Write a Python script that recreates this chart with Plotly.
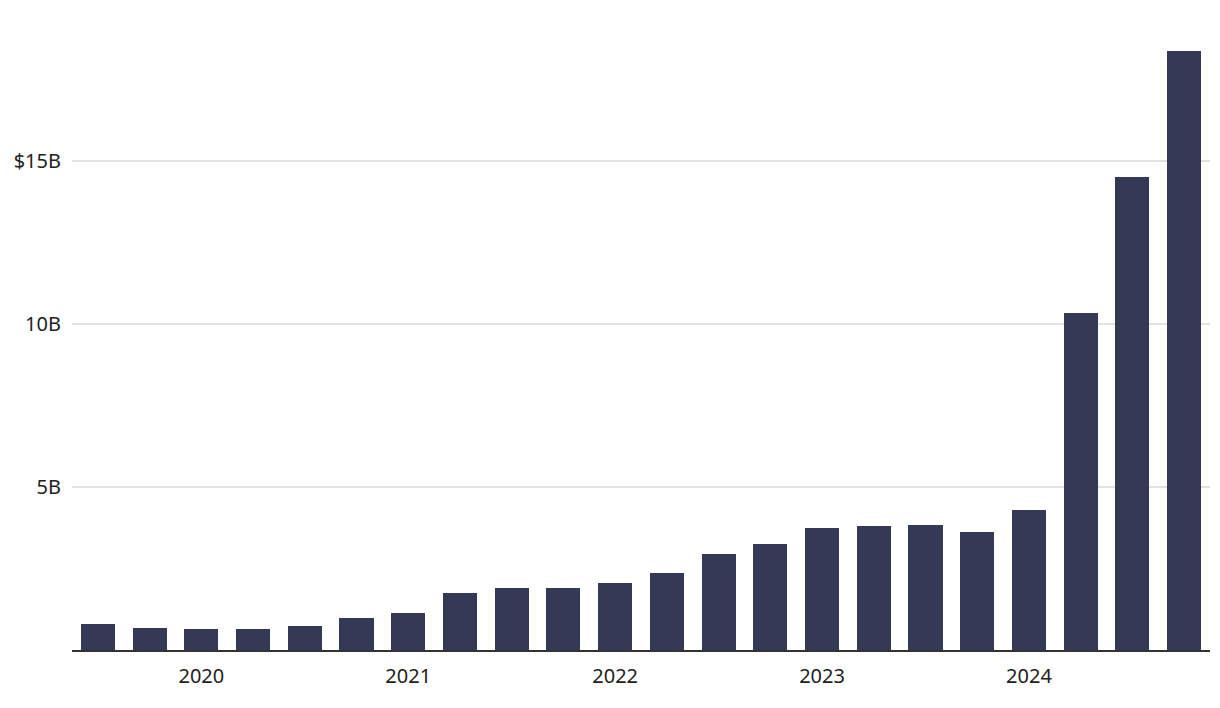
import plotly.graph_objects as go

quarters = ["2019 Q3", "2019 Q4",
            "2020 Q1", "2020 Q2", "2020 Q3", "2020 Q4",
            "2021 Q1", "2021 Q2", "2021 Q3", "2021 Q4",
            "2022 Q1", "2022 Q2", "2022 Q3", "2022 Q4",
            "2023 Q1", "2023 Q2", "2023 Q3", "2023 Q4",
            "2024 Q1", "2024 Q2", "2024 Q3", "2024 Q4"]
values_b = [0.80, 0.67, 0.64, 0.64, 0.74, 0.98, 1.13, 1.75, 1.90, 1.90, 2.06,
            2.36, 2.94, 3.25, 3.74, 3.80, 3.83, 3.62, 4.29, 10.34, 14.51, 18.40]
year_ticks = ["2020", "2021", "2022", "2023", "2024"]
y_tickvals = [5, 10, 15]
y_ticktext = ["5B", "10B", "$15B"]

x_pos = list(range(len(quarters)))
year_pos = [quarters.index(y + " Q1") for y in year_ticks]

fig = go.Figure(go.Bar(
    x=x_pos, y=values_b, width=0.66,
    marker=dict(color="#343a56", line=dict(width=0)),
    customdata=quarters,
    hovertemplate="%{customdata}: $%{y:.2f}B<extra></extra>",
))

fig.update_layout(
    width=1212, height=700,
    margin=dict(l=64, r=10, t=23, b=58),
    paper_bgcolor="white", plot_bgcolor="white",
    font=dict(family="Noto Sans, Lato, sans-serif", size=20, color="#222222"),
    showlegend=False,
    bargap=0,
)
fig.update_xaxes(
    range=[-0.5, 21.5], automargin=False,
    tickmode="array", tickvals=year_pos, ticktext=year_ticks,
    showgrid=False, zeroline=False,
    showline=True, linecolor="#333333", linewidth=2,
    ticks="", ticklen=0, ticklabelstandoff=7,
)
fig.update_yaxes(
    range=[0, 19], automargin=False,
    tickmode="array", tickvals=y_tickvals, ticktext=y_ticktext,
    showgrid=True, gridcolor="#e3e3e3", gridwidth=1.5,
    zeroline=False, showline=False, ticks="", ticklabelstandoff=10,
)

fig.write_html("out.html")
